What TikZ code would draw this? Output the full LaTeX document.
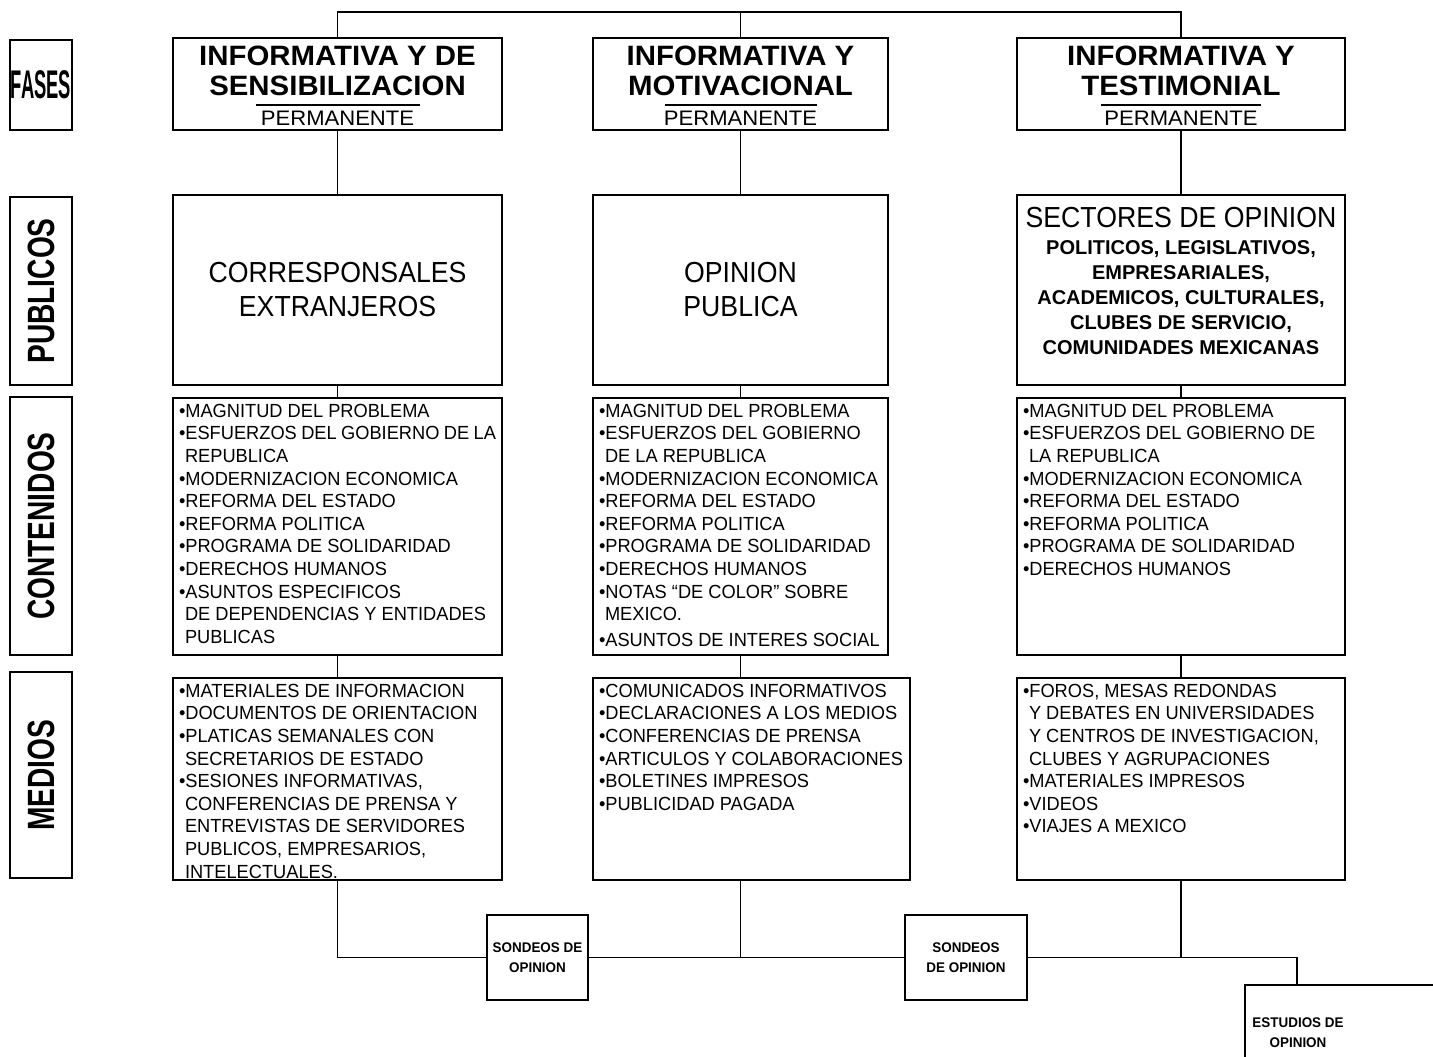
\documentclass[tikz,border=0pt]{standalone}
\usepackage{fontspec}
\setmainfont{Liberation Sans}[FakeStretch=0.96]
\newfontfamily\titulofont{Liberation Sans}[FakeStretch=1.05]
\newfontfamily\publicofont{Liberation Sans}[FakeStretch=0.92]
\newfontfamily\sectorfont{Liberation Sans}[FakeStretch=1.0]
\newfontfamily\labelfont{Liberation Sans}[FakeStretch=0.74]
\newfontfamily\fasesfont{Liberation Sans}[FakeStretch=0.46]
\usetikzlibrary{positioning}

\newcommand{\sangria}{\hspace*{3pt}}
\newcommand{\caja}[3]{\parbox[c][#1][t]{#2}{#3}}
% titulo de fase: linea 1, linea 2, largo de la raya, ancho de la caja
\newcommand{\fasetexto}[4]{\caja{46pt}{#4}{\centering\vspace*{4pt}#1\\#2\par
    \vspace{-10pt}\rule{#3}{0.6pt}\par
    \vspace{-2pt}{\mdseries\fontsize{10.5}{12}\selectfont PERMANENTE\par}}}

\begin{document}
\begin{tikzpicture}[x=0.5pt,y=-0.5pt,
    box/.style={draw,line width=1.1pt,rectangle,inner sep=0pt},
    linea/.style={line width=0.9pt},
    etiqueta/.style={box,font=\labelfont\bfseries\fontsize{19}{19}\selectfont},
    fase/.style={box,font=\titulofont\bfseries\fontsize{14}{15}\selectfont},
    publico/.style={box,align=center,minimum height=95pt,font=\publicofont\fontsize{14.5}{17}\selectfont},
    lista/.style={box,inner sep=3pt,align=left,font=\fontsize{9.5}{11.3}\selectfont},
    sondeo/.style={box,align=center,minimum height=42.5pt,font=\bfseries\fontsize{7}{10}\selectfont}]

\useasboundingbox (0,0) rectangle (1433,1056);

% etiquetas de la izquierda
\node[etiqueta,font=\fasesfont\bfseries\fontsize{20}{20}\selectfont,
    minimum width=31pt,minimum height=45pt] (lfases) at (41,85) {FASES};
\node[etiqueta,minimum width=94pt,minimum height=31pt,rotate=90] (lpub) at (41,291) {PUBLICOS};
\node[etiqueta,minimum width=129pt,minimum height=31pt,rotate=90] (lcont) at (41,526) {CONTENIDOS};
\node[etiqueta,minimum width=103pt,minimum height=31pt,rotate=90] (lmed) at (41,775) {MEDIOS};

% fases
\node[fase] (fase1) at (337.5,84) {\fasetexto{INFORMATIVA Y DE}{SENSIBILIZACION}{82pt}{164.5pt}};
\node[fase] (fase2) at (740.5,84) {\fasetexto{INFORMATIVA Y}{MOTIVACIONAL}{76pt}{147.5pt}};
\node[fase] (fase3) at (1181,84) {\fasetexto{INFORMATIVA Y}{TESTIMONIAL}{80pt}{164pt}};

% publicos
\node[publico,minimum width=164.5pt] (pub1) at (337.5,290) {CORRESPONSALES\\EXTRANJEROS};
\node[publico,minimum width=147.5pt] (pub2) at (740.5,290) {OPINION\\PUBLICA};
\node[box] (pub3) at (1181,290) {\caja{95pt}{164pt}{\centering
    \vspace*{6pt}{\publicofont\fontsize{14.5}{17}\selectfont SECTORES DE OPINION\par}
    \vspace{1pt}\sectorfont\bfseries\fontsize{10}{12.5}\selectfont
    POLITICOS, LEGISLATIVOS,\\
    EMPRESARIALES,\\
    ACADEMICOS, CULTURALES,\\
    CLUBES DE SERVICIO,\\
    COMUNIDADES MEXICANAS\par}};

% contenidos
\node[lista] (cont1) at (337.5,526.5) {\caja{122.5pt}{158.5pt}{%
    •MAGNITUD DEL PROBLEMA\\
    •ESFUERZOS DEL GOBIERNO DE LA\\
    \sangria REPUBLICA\\
    •MODERNIZACION ECONOMICA\\
    •REFORMA DEL ESTADO\\
    •REFORMA POLITICA\\
    •PROGRAMA DE SOLIDARIDAD\\
    •DERECHOS HUMANOS\\
    •ASUNTOS ESPECIFICOS\\
    \sangria DE DEPENDENCIAS Y ENTIDADES\\
    \sangria PUBLICAS}};
\node[lista] (cont2) at (740.5,526.5) {\caja{122.5pt}{141.5pt}{%
    •MAGNITUD DEL PROBLEMA\\
    •ESFUERZOS DEL GOBIERNO\\
    \sangria DE LA REPUBLICA\\
    •MODERNIZACION ECONOMICA\\
    •REFORMA DEL ESTADO\\
    •REFORMA POLITICA\\
    •PROGRAMA DE SOLIDARIDAD\\
    •DERECHOS HUMANOS\\
    •NOTAS ``DE COLOR'' SOBRE\\
    \sangria MEXICO.\\[1.5pt]
    •ASUNTOS DE INTERES SOCIAL}};
\node[lista] (cont3) at (1181,526.5) {\caja{122.5pt}{158pt}{%
    •MAGNITUD DEL PROBLEMA\\
    •ESFUERZOS DEL GOBIERNO DE\\
    \sangria LA REPUBLICA\\
    •MODERNIZACION ECONOMICA\\
    •REFORMA DEL ESTADO\\
    •REFORMA POLITICA\\
    •PROGRAMA DE SOLIDARIDAD\\
    •DERECHOS HUMANOS}};

% medios
\node[lista] (med1) at (337.5,779) {\caja{95pt}{158.5pt}{%
    •MATERIALES DE INFORMACION\\
    •DOCUMENTOS DE ORIENTACION\\
    •PLATICAS SEMANALES CON\\
    \sangria SECRETARIOS DE ESTADO\\
    •SESIONES INFORMATIVAS,\\
    \sangria CONFERENCIAS DE PRENSA Y\\
    \sangria ENTREVISTAS DE SERVIDORES\\
    \sangria PUBLICOS, EMPRESARIOS,\\
    \sangria INTELECTUALES.}};
\node[lista] (med2) at (751.5,779) {\caja{95pt}{152.5pt}{%
    •COMUNICADOS INFORMATIVOS\\
    •DECLARACIONES A LOS MEDIOS\\
    •CONFERENCIAS DE PRENSA\\
    •ARTICULOS Y COLABORACIONES\\
    •BOLETINES IMPRESOS\\
    •PUBLICIDAD PAGADA}};
\node[lista] (med3) at (1181,779) {\caja{95pt}{158pt}{%
    •FOROS, MESAS REDONDAS\\
    \sangria Y DEBATES EN UNIVERSIDADES\\
    \sangria Y CENTROS DE INVESTIGACION,\\
    \sangria CLUBES Y AGRUPACIONES\\
    •MATERIALES IMPRESOS\\
    •VIDEOS\\
    •VIAJES A MEXICO}};

% sondeos y estudios
\node[sondeo,minimum width=50.5pt] (son1) at (537.5,957.5) {SONDEOS DE\\OPINION};
\node[sondeo,minimum width=61pt] (son2) at (966,957.5) {SONDEOS\\DE OPINION};
\node[font=\bfseries\fontsize{7}{10}\selectfont,align=center] (est) at (1298,1033) {ESTUDIOS DE\\OPINION};
\draw[box] (1245,1075) |- (1450,985);
\coordinate (esttop) at (1297,985);

% conexiones
\draw[linea] (fase1.north) |- (fase3.north |- 0,12) -- (fase3.north);
\draw[linea] (fase2.north) -- (fase2.north |- 0,12);

\foreach \i in {1,2,3} {
    \draw[linea] (fase\i.south) -- (pub\i.north);
    \draw[linea] (pub\i.south) -- (cont\i.north);
    \draw[linea] (cont\i.south) -- (cont\i.south |- med\i.north);
}

\draw[linea] (med1.south) |- (son1.west);
\draw[linea] (son1.east) -- (son2.west);
\draw[linea] (cont2.south |- med2.south) -- (cont2.south |- son1.east);
\draw[linea] (son2.east) -| (esttop);
\draw[linea] (med3.south) -- (med3.south |- son2.east);

\end{tikzpicture}
\end{document}
